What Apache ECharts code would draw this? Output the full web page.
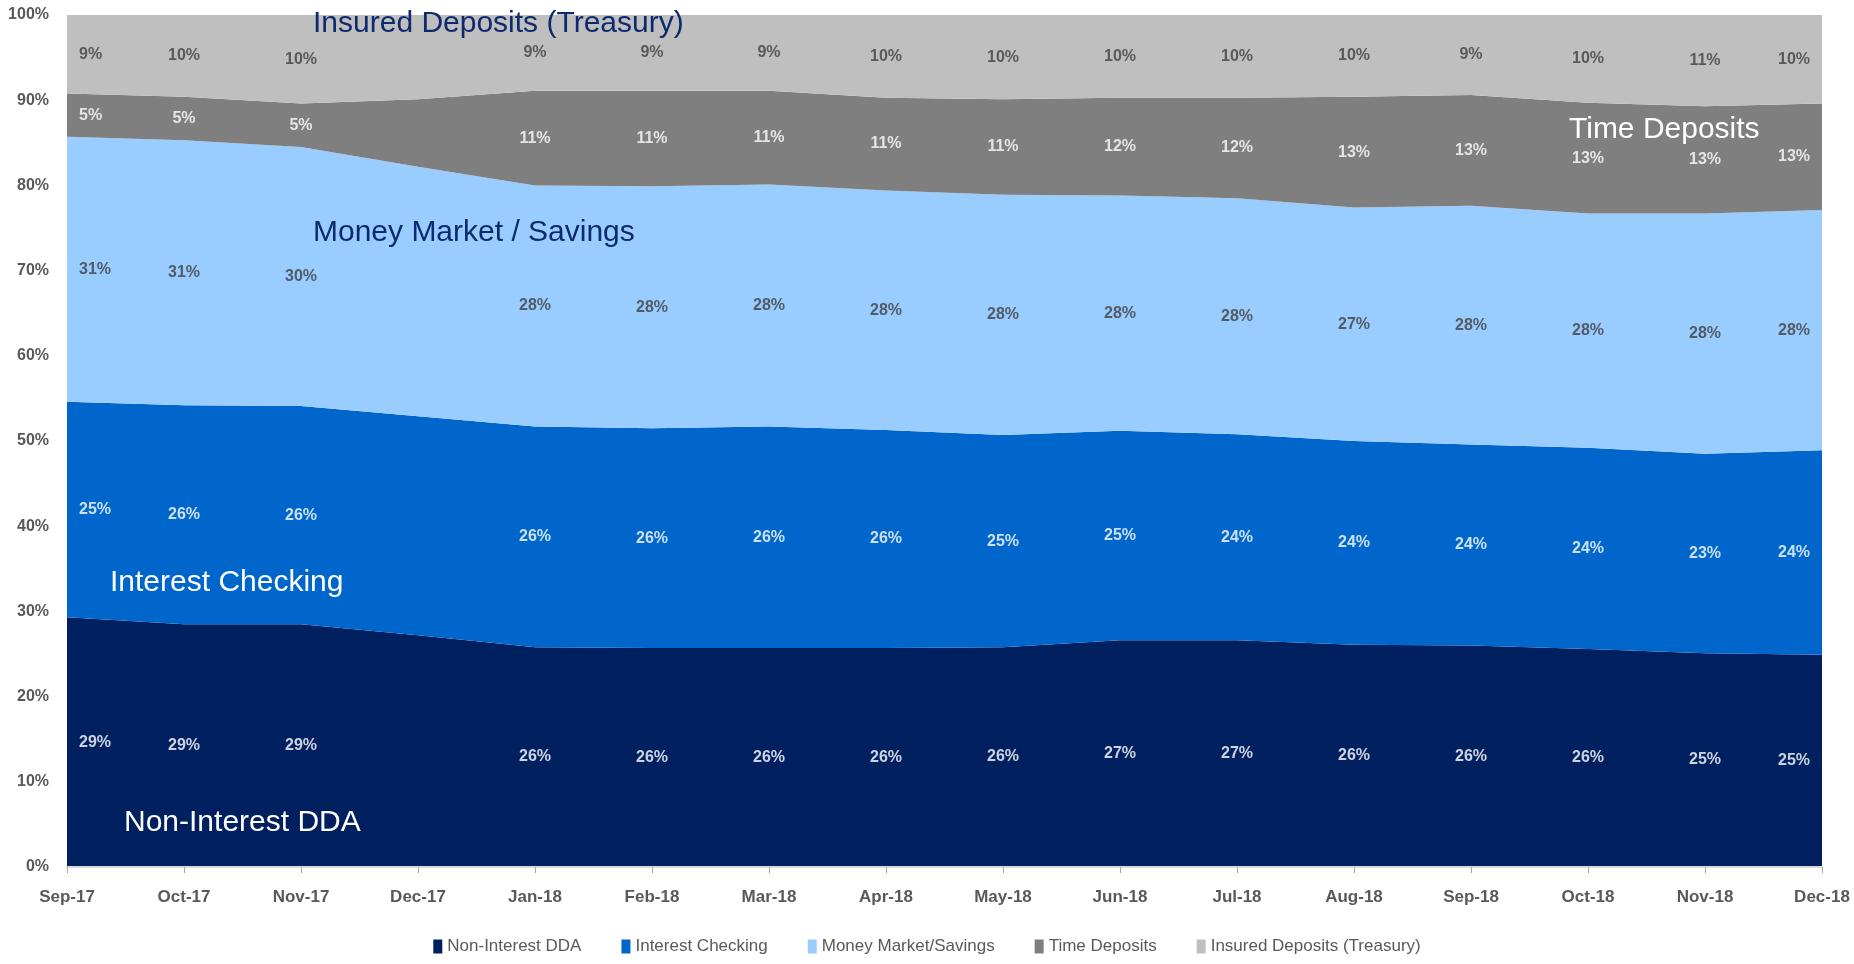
<!DOCTYPE html>
<html>
<head>
<meta charset="utf-8">
<script src="https://cdn.jsdelivr.net/npm/echarts@6/dist/echarts.min.js"></script>
<style>
  html, body { margin: 0; padding: 0; background: #ffffff; }
  #chart { width: 1854px; height: 964px; }
</style>
</head>
<body>
<div id="chart"></div>
<script>
// Monthly deposit mix, share of total deposits (%)
const months = ['Sep-17', 'Oct-17', 'Nov-17', 'Dec-17', 'Jan-18', 'Feb-18', 'Mar-18', 'Apr-18',
                'May-18', 'Jun-18', 'Jul-18', 'Aug-18', 'Sep-18', 'Oct-18', 'Nov-18', 'Dec-18'];
const nonInterestDDA   = [29.3, 28.5, 28.5, 27.2, 25.8, 25.7, 25.7, 25.7, 25.8, 26.6, 26.6, 26.1, 26.0, 25.6, 25.1, 24.9];
const interestChecking = [25.3, 25.7, 25.6, 25.7, 25.9, 25.8, 26.0, 25.6, 24.9, 24.6, 24.2, 23.9, 23.6, 23.6, 23.4, 24.0];
const moneyMarket      = [31.1, 31.1, 30.4, 29.3, 28.3, 28.4, 28.4, 28.1, 28.2, 27.6, 27.7, 27.4, 28.0, 27.5, 28.2, 28.2];
const timeDeposits     = [ 5.1,  5.1,  5.1,  7.9, 11.1, 11.2, 11.0, 10.9, 11.2, 11.5, 11.8, 13.0, 13.0, 13.0, 12.6, 12.5];
const insuredDeposits  = [ 9.2,  9.6, 10.4,  9.9,  8.9,  8.9,  8.9,  9.7,  9.9,  9.7,  9.7,  9.6,  9.4, 10.3, 10.7, 10.4];

// Months whose values carry no data label
const unlabelledMonths = ['Dec-17'];

// Series names (legend) and the in-chart captions
const seriesNames = ['Non-Interest DDA', 'Interest Checking', 'Money Market/Savings', 'Time Deposits', 'Insured Deposits (Treasury)'];
const captions = ['Non-Interest DDA', 'Interest Checking', 'Money Market / Savings', 'Time Deposits', 'Insured Deposits (Treasury)'];
const yTicks = [0, 10, 20, 30, 40, 50, 60, 70, 80, 90, 100];

const seriesValues = [nonInterestDDA, interestChecking, moneyMarket, timeDeposits, insuredDeposits];

// Styling
const fillColors  = ['#00205F', '#0066CC', '#99CCFF', '#7F7F7F', '#BFBFBF'];
const labelColors = ['#FFFFFF', '#FFFFFF', '#404040', '#FFFFFF', '#404040'];
const captionColors = ['#FFFFFF', '#FFFFFF', '#0E2A6E', '#FFFFFF', '#0E2A6E'];
const FONT = '"Liberation Sans Narrow", "Liberation Sans", Arial, sans-serif';
const AXIS_TEXT = '#595959';

const chart = echarts.init(document.getElementById('chart'), null, { renderer: 'canvas' });

// Stacked areas
const areaSeries = seriesValues.map((vals, i) => ({
  name: seriesNames[i],
  type: 'line',
  stack: 'mix',
  data: vals,
  showSymbol: false,
  symbol: 'none',
  lineStyle: { width: 0 },
  itemStyle: { color: fillColors[i] },
  areaStyle: { color: fillColors[i], opacity: 1 },
  emphasis: { disabled: true },
  z: 2
}));

// Value labels placed at the middle of each band
const lastIdx = months.length - 1;
const labelSeries = seriesValues.map((vals, i) => {
  const data = [];
  vals.forEach((v, j) => {
    if (unlabelledMonths.includes(months[j])) return;
    let base = 0;
    for (let k = 0; k < i; k++) base += seriesValues[k][j];
    const item = { value: [j, base + v / 2], share: v };
    if (j === 0) item.label = { position: 'right', distance: 12 };
    else if (j === lastIdx) item.label = { position: 'left', distance: 12 };
    data.push(item);
  });
  return {
    name: seriesNames[i] + ' labels',
    type: 'scatter',
    data: data,
    symbolSize: 0,
    silent: true,
    z: 5,
    label: {
      show: true,
      position: 'inside',
      formatter: p => Math.round(p.data.share) + '%',
      color: labelColors[i],
      fontFamily: FONT,
      fontWeight: 'bold',
      fontSize: 16
    }
  };
});

// Band captions
const captionPos = [
  { left: 124, top: 808 },
  { left: 110, top: 568 },
  { left: 313, top: 218 },
  { left: 1569, top: 115 },
  { left: 313, top: 9 }
];
const graphics = captions.map((t, i) => ({
  type: 'text',
  left: captionPos[i].left,
  top: captionPos[i].top,
  z: 10,
  style: {
    text: t,
    fill: captionColors[i],
    font: '30px ' + FONT
  }
}));

chart.setOption({
  animation: false,
  backgroundColor: '#ffffff',
  grid: { left: 67, right: 32, top: 15, bottom: 97, containLabel: false },
  legend: {
    data: seriesNames,
    bottom: 4,
    left: 'center',
    icon: 'rect',
    itemWidth: 9,
    itemHeight: 14,
    itemGap: 40,
    textStyle: { color: AXIS_TEXT, fontFamily: FONT, fontSize: 17 }
  },
  xAxis: {
    type: 'category',
    data: months,
    boundaryGap: false,
    axisLine: { show: true, lineStyle: { color: '#D9D9D9', width: 2 } },
    axisTick: { show: true, alignWithLabel: true, length: 6, lineStyle: { color: '#A6A6A6' } },
    axisLabel: { color: AXIS_TEXT, fontFamily: FONT, fontWeight: 'bold', fontSize: 17, margin: 22, interval: 0 },
    splitLine: { show: false },
    z: 6
  },
  yAxis: {
    type: 'value',
    min: yTicks[0],
    max: yTicks[yTicks.length - 1],
    interval: yTicks[1] - yTicks[0],
    axisLine: { show: false },
    axisTick: { show: false },
    splitLine: { show: false },
    axisLabel: { color: AXIS_TEXT, fontFamily: FONT, fontWeight: 'bold', fontSize: 16, margin: 18, formatter: '{value}%' }
  },
  series: areaSeries.concat(labelSeries),
  graphic: graphics
});
</script>
</body>
</html>
